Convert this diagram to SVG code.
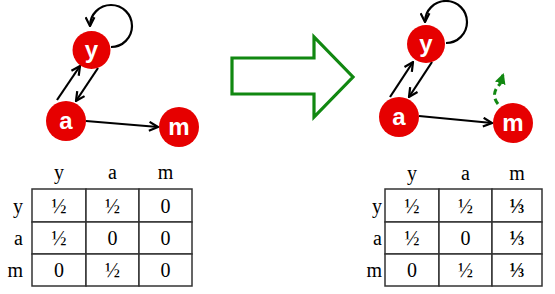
<svg xmlns="http://www.w3.org/2000/svg" width="555" height="294" viewBox="0 0 555 294">
<style>
.node circle{fill:#e60000;}
.node text{font-family:"Liberation Sans",Arial,sans-serif;font-weight:bold;font-size:24px;fill:#fff;text-anchor:middle;}
.edge{fill:none;stroke:#000;stroke-width:2.2;marker-end:url(#ah);}
.cell{fill:#fff;stroke:#333;stroke-width:1.5;}
.t{font-family:"Liberation Serif","Times New Roman",serif;font-size:20px;fill:#000;text-anchor:middle;}
.rl{font-family:"Liberation Serif","Times New Roman",serif;font-size:20px;fill:#000;text-anchor:end;}
.b{font-weight:bold;}
</style>
<defs>
<marker id="ah" viewBox="0 0 10 10" refX="9" refY="5" markerWidth="11" markerHeight="11" markerUnits="userSpaceOnUse" orient="auto">
<path d="M1,1 L9,5 L1,9" fill="none" stroke="#000" stroke-width="2"/>
</marker>
<marker id="gh" viewBox="0 0 10 10" refX="8" refY="5" markerWidth="11" markerHeight="11" markerUnits="userSpaceOnUse" orient="auto">
<path d="M0,0 L10,5 L0,10 Z" fill="#118811"/>
</marker>
</defs>

<g id="connectors">
<path class="edge" d="M111,47 A21,21 0 1 0 90,26"/>
<path class="edge" d="M57,100 L80,66"/>
<path class="edge" d="M98,68 L76,101"/>
<path class="edge" d="M86,121 L158,127"/>
<path class="edge" d="M446,43 A21,21 0 1 0 425,22"/>
<path class="edge" d="M390,97 L413,62"/>
<path class="edge" d="M432,62 L409,97"/>
<path class="edge" d="M419,116 L492,123"/>
<path d="M498,104 Q490,94 500,84 L503,75" fill="none" stroke="#118811" stroke-width="3" stroke-dasharray="6,4" marker-end="url(#gh)"/>
</g>

<g id="node-y-left" class="node"><circle cx="91.5" cy="50" r="19"/><text x="91.5" y="58">y</text></g>
<g id="node-a-left" class="node"><circle cx="66" cy="121" r="20"/><text x="66" y="129">a</text></g>
<g id="node-m-left" class="node"><circle cx="179" cy="127" r="20"/><text x="179" y="135">m</text></g>

<g id="node-y-right" class="node"><circle cx="426" cy="44" r="19"/><text x="426" y="52">y</text></g>
<g id="node-a-right" class="node"><circle cx="399" cy="117" r="20"/><text x="399" y="125">a</text></g>
<g id="node-m-right" class="node"><circle cx="513" cy="123" r="20"/><text x="513" y="131">m</text></g>

<g id="big-arrow">
<polygon points="232,58 314,58 314,37 353,77 314,117 314,94 232,94" fill="#fff" stroke="#118811" stroke-width="3.2" stroke-linejoin="miter"/>
</g>

<g id="table-left">
<rect class="cell" x="32" y="189" width="54" height="33"/>
<rect class="cell" x="86" y="189" width="53" height="33"/>
<rect class="cell" x="139" y="189" width="53" height="33"/>
<rect class="cell" x="32" y="222" width="54" height="32"/>
<rect class="cell" x="86" y="222" width="53" height="32"/>
<rect class="cell" x="139" y="222" width="53" height="32"/>
<rect class="cell" x="32" y="254" width="54" height="32"/>
<rect class="cell" x="86" y="254" width="53" height="32"/>
<rect class="cell" x="139" y="254" width="53" height="32"/>
<text class="t" x="59" y="179">y</text>
<text class="t" x="112.5" y="179">a</text>
<text class="t" x="165.5" y="179">m</text>
<text class="rl" x="23" y="212.5">y</text>
<text class="rl" x="23" y="245">a</text>
<text class="rl" x="23" y="277">m</text>
<text class="t" x="59" y="212.5">½</text>
<text class="t" x="112.5" y="212.5">½</text>
<text class="t" x="165.5" y="212.5">0</text>
<text class="t" x="59" y="245">½</text>
<text class="t" x="112.5" y="245">0</text>
<text class="t" x="165.5" y="245">0</text>
<text class="t" x="59" y="277">0</text>
<text class="t" x="112.5" y="277">½</text>
<text class="t" x="165.5" y="277">0</text>
</g>

<g id="table-right">
<rect class="cell" x="385" y="189" width="54" height="33"/>
<rect class="cell" x="439" y="189" width="53" height="33"/>
<rect class="cell" x="492" y="189" width="50" height="33"/>
<rect class="cell" x="385" y="222" width="54" height="32"/>
<rect class="cell" x="439" y="222" width="53" height="32"/>
<rect class="cell" x="492" y="222" width="50" height="32"/>
<rect class="cell" x="385" y="254" width="54" height="32"/>
<rect class="cell" x="439" y="254" width="53" height="32"/>
<rect class="cell" x="492" y="254" width="50" height="32"/>
<text class="t" x="412" y="180">y</text>
<text class="t" x="465.5" y="180">a</text>
<text class="t" x="517" y="180">m</text>
<text class="rl" x="382" y="212.5">y</text>
<text class="rl" x="382" y="245">a</text>
<text class="rl" x="382" y="277">m</text>
<text class="t" x="412" y="212.5">½</text>
<text class="t" x="465.5" y="212.5">½</text>
<text class="t b" x="517" y="212.5">⅓</text>
<text class="t" x="412" y="245">½</text>
<text class="t" x="465.5" y="245">0</text>
<text class="t b" x="517" y="245">⅓</text>
<text class="t" x="412" y="277">0</text>
<text class="t" x="465.5" y="277">½</text>
<text class="t b" x="517" y="277">⅓</text>
</g>
</svg>
